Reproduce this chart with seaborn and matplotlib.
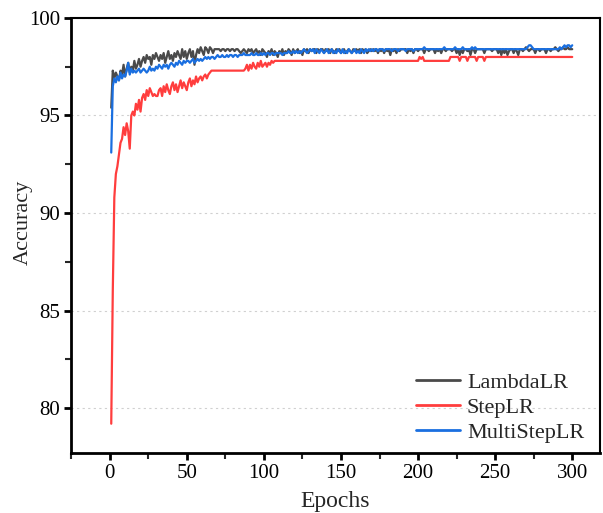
import numpy as np
import pandas as pd
import matplotlib
matplotlib.use("Agg")
import matplotlib.pyplot as plt
from matplotlib.ticker import MultipleLocator
import seaborn as sns

series_names = ["LambdaLR", "StepLR", "MultiStepLR"]
colors = ["#4a4a4a", "#ff3d3d", "#1a6fe0"]

lambda_lr = [
    95.4, 97.3, 96.9, 97.2, 97.0, 96.8, 97.3, 97.1, 97.6, 97.0,
    97.4, 97.7, 97.2, 97.5, 97.3, 97.8, 97.4, 97.6, 97.9, 97.5,
    97.8, 98.0, 97.7, 98.1, 97.9, 98.0, 97.6, 98.1, 97.9, 98.2,
    98.0, 97.8, 98.1, 97.9, 98.2, 97.7, 98.0, 98.3, 97.9, 98.1,
    97.8, 98.2, 98.0, 98.3, 98.1, 97.9, 98.4, 98.0, 98.3, 97.9,
    98.2, 98.4, 98.0, 98.3, 97.6, 98.1, 98.4, 98.2, 98.5, 98.3,
    98.1, 98.5, 98.4, 98.2, 98.5, 98.4, 98.2, 98.4, 98.4, 98.4,
    98.4, 98.3, 98.4, 98.4, 98.3, 98.4, 98.4, 98.3, 98.4, 98.4,
    98.3, 98.4, 98.4, 98.3, 98.2, 98.3, 98.4, 98.3, 98.2, 98.4,
    98.3, 98.4, 98.2, 98.3, 98.4, 98.2, 98.3, 98.1, 98.4, 98.3,
    98.2, 98.0, 98.3, 98.2, 98.4, 98.1, 98.3, 98.2, 98.0, 98.3,
    98.2, 98.4, 98.1, 98.3, 98.2, 98.4, 98.3, 98.1, 98.4, 98.2,
    98.3, 98.4, 98.2, 98.3, 98.1, 98.4, 98.3, 98.4, 98.2, 98.4,
    98.3, 98.4, 98.4, 98.2, 98.4, 98.3, 98.4, 98.4, 98.2, 98.4,
    98.3, 98.4, 98.2, 98.4, 98.3, 98.2, 98.4, 98.3, 98.4, 98.2,
    98.3, 98.4, 98.2, 98.3, 98.4, 98.3, 98.2, 98.4, 98.3, 98.4,
    98.3, 98.4, 98.2, 98.4, 98.3, 98.4, 98.2, 98.3, 98.4, 98.3,
    98.4, 98.3, 98.4, 98.2, 98.4, 98.3, 98.4, 98.2, 98.4, 98.3,
    98.4, 98.1, 98.4, 98.3, 98.4, 98.2, 98.4, 98.3, 98.4, 98.4,
    98.4, 98.4, 98.2, 98.4, 98.3, 98.4, 98.2, 98.4, 98.4, 98.3,
    98.4, 98.4, 98.4, 98.2, 98.4, 98.4, 98.3, 98.4, 98.4, 98.4,
    98.2, 98.4, 98.3, 98.4, 98.2, 98.4, 98.4, 98.3, 98.4, 98.4,
    98.4, 98.3, 98.4, 98.4, 98.2, 98.4, 98.1, 98.4, 98.2, 98.4,
    98.4, 98.3, 98.4, 98.1, 98.4, 98.4, 98.2, 98.4, 98.4, 98.4,
    98.4, 98.4, 98.2, 98.4, 98.4, 98.4, 98.4, 98.3, 98.4, 98.4,
    98.4, 98.2, 98.4, 98.1, 98.4, 98.2, 98.4, 98.1, 98.3, 98.4,
    98.4, 98.2, 98.4, 98.3, 98.1, 98.4, 98.4, 98.3, 98.4, 98.5,
    98.4, 98.3, 98.4, 98.4, 98.4, 98.2, 98.4, 98.4, 98.3, 98.4,
    98.4, 98.4, 98.2, 98.4, 98.4, 98.3, 98.4, 98.4, 98.5, 98.4,
    98.3, 98.4, 98.4, 98.5, 98.4, 98.4, 98.5, 98.4, 98.4, 98.4,
]

step_lr = [
    79.2, 86.0, 90.8, 92.0, 92.4, 93.0, 93.6, 93.8, 94.4, 94.0,
    94.6, 94.2, 93.3, 95.0, 95.2, 95.0, 95.6, 95.3, 95.8, 95.2,
    95.9, 96.1, 95.8, 96.3, 96.0, 96.4, 96.2, 96.0, 96.1, 96.0,
    96.0, 96.3, 96.4, 96.0, 96.5, 96.2, 96.6, 96.3, 96.1, 96.5,
    96.7, 96.3, 96.6, 96.2, 96.5, 96.8, 96.4, 96.7, 96.5, 96.3,
    96.7, 96.9, 96.5, 96.8, 96.6, 97.0, 96.7, 96.9, 97.0, 96.8,
    97.0, 97.1, 96.9, 97.1, 97.2, 97.3, 97.3, 97.3, 97.3, 97.3,
    97.3, 97.3, 97.3, 97.3, 97.3, 97.3, 97.3, 97.3, 97.3, 97.3,
    97.3, 97.3, 97.3, 97.3, 97.3, 97.3, 97.3, 97.4, 97.6, 97.3,
    97.6, 97.4, 97.7, 97.5, 97.4, 97.7, 97.5, 97.8, 97.5, 97.6,
    97.7, 97.5, 97.7, 97.6, 97.8, 97.7, 97.8, 97.8, 97.8, 97.8,
    97.8, 97.8, 97.8, 97.8, 97.8, 97.8, 97.8, 97.8, 97.8, 97.8,
    97.8, 97.8, 97.8, 97.8, 97.8, 97.8, 97.8, 97.8, 97.8, 97.8,
    97.8, 97.8, 97.8, 97.8, 97.8, 97.8, 97.8, 97.8, 97.8, 97.8,
    97.8, 97.8, 97.8, 97.8, 97.8, 97.8, 97.8, 97.8, 97.8, 97.8,
    97.8, 97.8, 97.8, 97.8, 97.8, 97.8, 97.8, 97.8, 97.8, 97.8,
    97.8, 97.8, 97.8, 97.8, 97.8, 97.8, 97.8, 97.8, 97.8, 97.8,
    97.8, 97.8, 97.8, 97.8, 97.8, 97.8, 97.8, 97.8, 97.8, 97.8,
    97.8, 97.8, 97.8, 97.8, 97.8, 97.8, 97.8, 97.8, 97.8, 97.8,
    97.8, 97.8, 97.8, 97.8, 97.8, 97.8, 97.8, 97.8, 97.8, 97.8,
    98.0, 97.9, 98.0, 97.8, 97.8, 97.8, 97.8, 97.8, 97.8, 97.8,
    97.8, 97.8, 97.8, 97.8, 97.8, 97.8, 97.8, 97.8, 97.8, 97.8,
    98.0, 98.0, 98.0, 98.0, 98.0, 98.0, 97.8, 98.0, 98.0, 98.0,
    98.0, 97.8, 98.0, 98.0, 98.0, 98.0, 98.0, 97.8, 98.0, 98.0,
    98.0, 98.0, 97.8, 98.0, 98.0, 98.0, 98.0, 98.0, 98.0, 98.0,
    98.0, 98.0, 98.0, 98.0, 98.0, 98.0, 98.0, 98.0, 98.0, 98.0,
    98.0, 98.0, 98.0, 98.0, 98.0, 98.0, 98.0, 98.0, 98.0, 98.0,
    98.0, 98.0, 98.0, 98.0, 98.0, 98.0, 98.0, 98.0, 98.0, 98.0,
    98.0, 98.0, 98.0, 98.0, 98.0, 98.0, 98.0, 98.0, 98.0, 98.0,
    98.0, 98.0, 98.0, 98.0, 98.0, 98.0, 98.0, 98.0, 98.0, 98.0,
]

multistep_lr = [
    93.1, 96.5, 96.9, 96.7, 97.0, 96.8, 97.2, 96.9, 97.1, 97.0,
    97.3, 97.7, 97.1, 97.4, 97.2, 97.3, 97.2, 97.3, 97.4, 97.2,
    97.3, 97.4, 97.3, 97.2, 97.3, 97.5, 97.3, 97.4, 97.3, 97.5,
    97.4, 97.6, 97.5, 97.4, 97.6, 97.5, 97.6, 97.4, 97.6, 97.7,
    97.6, 97.5, 97.7, 97.6, 97.8, 97.7, 97.6, 97.8, 97.7, 97.8,
    97.8, 97.7, 97.8, 97.9, 97.7, 97.8, 97.9, 97.8, 97.9, 97.8,
    97.9, 98.0, 97.9, 98.0, 97.9, 98.0, 98.0, 97.9, 98.0, 98.1,
    98.0, 98.0, 98.1, 98.0, 98.0, 98.1, 98.0, 98.1, 98.1, 98.0,
    98.1, 98.1, 98.0, 98.1, 98.1, 98.1, 98.2, 98.1, 98.1, 98.1,
    98.1, 98.2, 98.1, 98.1, 98.2, 98.1, 98.1, 98.2, 98.1, 98.2,
    98.1, 98.2, 98.2, 98.1, 98.2, 98.2, 98.1, 98.2, 98.2, 98.2,
    98.2, 98.1, 98.2, 98.2, 98.2, 98.3, 98.2, 98.2, 98.3, 98.2,
    98.3, 98.2, 98.3, 98.2, 98.3, 98.4, 98.3, 98.2, 98.3, 98.4,
    98.3, 98.4, 98.2, 98.4, 98.3, 98.2, 98.4, 98.3, 98.2, 98.3,
    98.4, 98.2, 98.3, 98.4, 98.2, 98.3, 98.2, 98.4, 98.3, 98.2,
    98.4, 98.2, 98.3, 98.2, 98.4, 98.3, 98.2, 98.3, 98.4, 98.2,
    98.3, 98.2, 98.4, 98.3, 98.2, 98.4, 98.3, 98.4, 98.3, 98.4,
    98.3, 98.4, 98.4, 98.3, 98.4, 98.4, 98.4, 98.3, 98.4, 98.4,
    98.4, 98.4, 98.3, 98.4, 98.4, 98.4, 98.3, 98.4, 98.4, 98.4,
    98.4, 98.3, 98.4, 98.4, 98.4, 98.4, 98.3, 98.4, 98.4, 98.4,
    98.4, 98.4, 98.4, 98.5, 98.4, 98.4, 98.4, 98.4, 98.4, 98.4,
    98.4, 98.4, 98.4, 98.4, 98.4, 98.4, 98.5, 98.4, 98.4, 98.4,
    98.4, 98.4, 98.4, 98.5, 98.4, 98.4, 98.4, 98.4, 98.5, 98.4,
    98.4, 98.4, 98.4, 98.4, 98.5, 98.4, 98.5, 98.4, 98.4, 98.4,
    98.4, 98.4, 98.4, 98.4, 98.4, 98.4, 98.4, 98.4, 98.4, 98.4,
    98.4, 98.4, 98.4, 98.4, 98.4, 98.4, 98.4, 98.4, 98.4, 98.4,
    98.4, 98.4, 98.4, 98.4, 98.4, 98.4, 98.4, 98.4, 98.4, 98.4,
    98.5, 98.6, 98.6, 98.5, 98.4, 98.4, 98.4, 98.4, 98.4, 98.4,
    98.4, 98.4, 98.4, 98.4, 98.4, 98.4, 98.4, 98.4, 98.4, 98.4,
    98.4, 98.5, 98.4, 98.5, 98.6, 98.5, 98.6, 98.6, 98.5, 98.6,
]

epochs = list(range(1, len(lambda_lr) + 1))

frames = []
for name, vals in zip(series_names, [lambda_lr, step_lr, multistep_lr]):
    frames.append(pd.DataFrame({"Epochs": epochs, "Accuracy": vals, "Scheduler": name}))
df = pd.concat(frames, ignore_index=True)

sns.set_theme(style="white")
plt.rcParams["font.family"] = ["Liberation Serif", "DejaVu Serif"]

fig = plt.figure(figsize=(6.03, 5.13), dpi=100)
ax = fig.add_axes([0.118, 0.117, 0.877, 0.848])

sns.lineplot(data=df, x="Epochs", y="Accuracy", hue="Scheduler",
             hue_order=series_names, palette=dict(zip(series_names, colors)),
             linewidth=1.6, ax=ax, legend=True)

ax.set_xlim(-25, 318)
ax.set_ylim(77.7, 100)
ax.xaxis.set_major_locator(MultipleLocator(50))
ax.xaxis.set_minor_locator(MultipleLocator(25))
ax.yaxis.set_major_locator(MultipleLocator(5))
ax.yaxis.set_minor_locator(MultipleLocator(2.5))
ax.yaxis.grid(True, which="major", linestyle=(0, (2, 3)), color="#d0d0d0", linewidth=0.8)
ax.xaxis.grid(False)
ax.set_axisbelow(True)

for side in ["left", "bottom"]:
    ax.spines[side].set_linewidth(2.0)
    ax.spines[side].set_color("black")
for side in ["top", "right"]:
    ax.spines[side].set_linewidth(1.5)
    ax.spines[side].set_color("black")

ax.tick_params(axis="both", which="major", direction="out", length=5, width=2,
               labelsize=15, colors="black", bottom=True, left=True, pad=3)
ax.tick_params(axis="both", which="minor", direction="out", length=4, width=1.5,
               bottom=True, left=True)

ax.set_xlabel("Epochs", fontsize=17, labelpad=6)
ax.set_ylabel("Accuracy", fontsize=16)
ax.yaxis.set_label_coords(-0.072, 0.53)

leg = ax.legend(loc="lower right", bbox_to_anchor=(1.008, -0.023), frameon=False,
                fontsize=16, handlelength=2.0, handletextpad=0.3,
                labelspacing=0.2, borderaxespad=0.5)
for line in leg.get_lines():
    line.set_linewidth(2.0)

fig.savefig("out.png", dpi=100)
